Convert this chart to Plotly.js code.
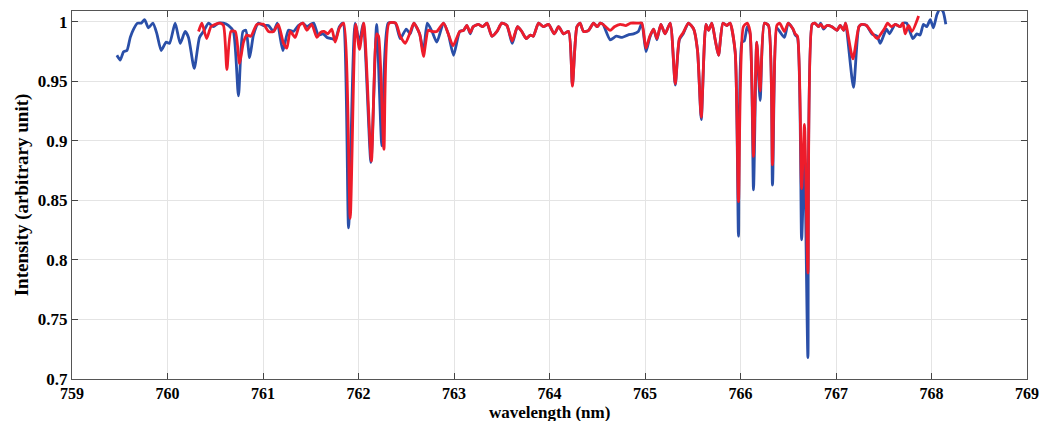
<!DOCTYPE html>
<html>
<head>
<meta charset="utf-8">
<script src="https://cdn.plot.ly/plotly-3.0.1.min.js"></script>
<style>
html,body{margin:0;padding:0;background:#fff;}
#chart{width:1040px;height:421px;}
</style>
</head>
<body>
<div id="chart"></div>
<script>
// Blue series (wavelength nm, intensity)
var blueX = [759.47,759.505,759.54,759.575,759.61,759.645,759.686,759.725,759.76,759.80,759.847,759.889,759.934,759.986,760.021,760.08,760.133,760.185,760.22,760.28,760.335,760.377,760.43,760.48,760.534,760.586,760.64,760.69,760.743,760.79,760.82,760.86,760.90,760.953,761.005,761.057,761.11,761.15,761.208,761.267,761.32,761.37,761.418,761.46,761.50,761.53,761.58,761.63,761.67,761.72,761.756,761.80,761.837,761.896,761.965,762.01,762.05,762.13,762.19,762.245,762.31,762.385,762.437,762.50,762.54,762.58,762.64,762.68,762.72,762.77,762.82,762.89,762.94,762.995,763.06,763.10,763.135,763.17,763.20,763.257,763.30,763.345,763.397,763.45,763.50,763.554,763.61,763.665,763.71,763.756,763.80,763.83,763.885,763.937,763.99,764.05,764.095,764.147,764.20,764.24,764.287,764.32,764.356,764.41,764.46,764.50,764.53,764.56,764.635,764.70,764.76,764.82,764.88,764.93,764.967,765.01,765.05,765.09,765.125,765.166,765.21,765.264,765.317,765.36,765.40,765.455,765.51,765.55,765.589,765.638,765.665,765.70,765.735,765.77,765.816,765.857,765.89,765.944,765.979,766.015,766.04,766.07,766.10,766.136,766.17,766.206,766.25,766.293,766.335,766.38,766.41,766.46,766.50,766.55,766.573,766.597,766.64,766.67,766.706,766.75,766.78,766.817,766.84,766.87,766.905,766.957,767.01,767.044,767.08,767.10,767.183,767.24,767.27,767.32,767.376,767.43,767.463,767.505,767.53,767.56,767.62,767.672,767.70,767.74,767.805,767.847,767.88,767.916,767.95,767.987,768.02,768.056,768.09,768.12,768.15];
var blueY = [0.972,0.968,0.975,0.976,0.987,0.994,0.999,0.999,1.002,0.995,0.999,0.990,0.976,0.983,0.982,0.999,0.982,0.992,0.987,0.961,0.987,0.992,0.999,0.996,0.999,0.999,0.997,0.992,0.938,0.992,0.993,0.970,0.989,0.999,0.997,0.997,0.992,0.999,0.976,0.993,0.992,0.997,0.999,0.996,0.998,0.999,0.989,0.990,0.987,0.986,0.985,0.996,0.999,0.827,0.999,0.983,0.999,0.882,0.998,0.896,0.999,0.999,0.986,0.994,0.990,0.999,0.990,0.975,0.999,0.992,0.983,0.999,0.990,0.972,0.992,0.993,0.997,0.990,0.996,0.998,0.996,0.999,0.988,0.992,0.999,0.997,0.982,0.996,0.992,0.986,0.989,0.988,0.999,0.996,0.998,0.990,0.996,0.990,0.992,0.947,0.996,0.999,0.992,0.993,0.999,0.996,0.999,0.998,0.985,0.988,0.987,0.989,0.990,0.992,0.999,0.975,0.987,0.994,0.985,0.998,0.990,0.999,0.947,0.985,0.990,0.999,0.994,0.976,0.918,0.998,0.993,0.999,0.985,0.972,0.999,0.997,0.999,0.975,0.820,0.983,0.984,0.996,0.990,0.859,0.983,0.934,0.999,0.997,0.863,0.995,0.992,0.987,0.999,0.994,0.989,0.987,0.817,0.887,0.718,0.998,0.999,0.996,0.999,0.994,0.997,0.996,0.993,0.997,0.993,0.999,0.945,0.996,0.998,0.997,0.990,0.988,0.982,0.990,0.994,0.990,0.998,0.996,0.999,0.999,0.986,0.990,0.989,0.998,0.996,1.002,0.995,1.006,1.011,1.009,0.998];

// Red series (wavelength nm, intensity)
var redX = [760.325,760.36,760.41,760.455,760.50,760.55,760.586,760.622,760.664,760.71,760.754,760.796,760.83,760.873,760.936,761.005,761.058,761.11,761.16,761.215,761.25,761.285,761.337,761.38,761.418,761.46,761.51,761.564,761.60,761.64,761.68,761.72,761.756,761.80,761.845,761.913,761.97,762.01,762.055,762.135,762.19,762.21,762.266,762.32,762.39,762.437,762.49,762.54,762.58,762.64,762.68,762.73,762.77,762.82,762.89,762.94,762.99,763.06,763.10,763.135,763.17,763.20,763.257,763.30,763.345,763.397,763.45,763.50,763.554,763.61,763.665,763.71,763.756,763.80,763.83,763.885,763.937,763.99,764.05,764.095,764.147,764.20,764.24,764.287,764.32,764.356,764.41,764.46,764.50,764.53,764.56,764.635,764.68,764.74,764.80,764.85,764.93,764.967,765.01,765.05,765.09,765.125,765.166,765.21,765.264,765.317,765.36,765.40,765.455,765.51,765.55,765.589,765.638,765.665,765.70,765.735,765.77,765.816,765.857,765.89,765.944,765.979,766.03,766.07,766.10,766.136,766.17,766.206,766.25,766.293,766.335,766.38,766.41,766.46,766.50,766.55,766.573,766.597,766.64,766.67,766.706,766.75,766.78,766.817,766.84,766.87,766.905,766.957,767.01,767.044,767.08,767.10,767.177,767.24,767.27,767.32,767.376,767.43,767.47,767.505,767.54,767.58,767.62,767.672,767.70,767.725,767.76,767.795,767.865];
var redY = [0.992,0.999,0.986,0.996,0.998,0.999,0.997,0.960,0.992,0.992,0.965,0.983,0.989,0.988,0.998,0.998,0.992,0.992,0.998,0.982,0.978,0.992,0.987,0.997,0.999,0.993,0.998,0.987,0.991,0.992,0.990,0.994,0.983,0.995,0.999,0.835,0.998,0.977,0.999,0.883,0.990,0.988,0.893,0.999,0.999,0.988,0.982,0.991,0.999,0.990,0.971,0.993,0.992,0.992,0.999,0.990,0.980,0.992,0.993,0.997,0.991,0.996,0.998,0.996,0.999,0.988,0.992,0.999,0.997,0.984,0.996,0.992,0.986,0.989,0.988,0.999,0.996,0.998,0.990,0.996,0.990,0.992,0.946,0.996,0.999,0.992,0.993,0.999,0.996,0.999,0.998,0.993,0.996,0.998,0.997,0.999,0.999,0.999,0.978,0.988,0.994,0.986,0.998,0.990,0.999,0.948,0.986,0.991,0.999,0.994,0.976,0.920,0.998,0.993,0.999,0.985,0.972,0.999,0.997,0.999,0.975,0.849,0.996,0.999,0.992,0.887,0.983,0.942,0.999,0.997,0.880,0.997,0.999,0.992,0.999,0.994,0.990,0.988,0.860,0.914,0.789,0.998,0.999,0.996,0.998,0.995,0.997,0.996,0.993,0.997,0.993,0.999,0.969,0.996,0.998,0.997,0.991,0.986,0.990,0.994,0.999,0.996,0.998,0.996,0.999,0.990,0.997,0.992,1.005];

var xTickVals = [759,760,761,762,763,764,765,766,767,768,769];
var yTickVals = [0.7,0.75,0.8,0.85,0.9,0.95,1];
var yTickText = ['0.7','0.75','0.8','0.85','0.9','0.95','1'];

var serif = '"Liberation Serif", "Times New Roman", serif';

var traces = [
  {x: blueX, y: blueY, type: 'scatter', mode: 'lines', name: 'blue',
   line: {color: '#2a4fa8', width: 2.8, shape: 'spline', smoothing: 0.6}},
  {x: redX, y: redY, type: 'scatter', mode: 'lines', name: 'red',
   line: {color: '#ee1c2b', width: 2.8, shape: 'spline', smoothing: 0.6}}
];

var layout = {
  width: 1040, height: 421,
  margin: {l: 72, r: 13, t: 11, b: 42},
  paper_bgcolor: '#fff', plot_bgcolor: '#fff',
  showlegend: false,
  font: {family: serif, color: '#000'},
  xaxis: {
    range: [759, 769], tickvals: xTickVals,
    ticks: 'inside', ticklen: 6, tickcolor: '#444',
    showline: true, linecolor: '#555', linewidth: 1, mirror: 'ticks',
    showgrid: true, gridcolor: '#e4e4e4', zeroline: false,
    tickfont: {family: serif, size: 16, color: '#000', weight: 'bold'}
  },
  yaxis: {
    range: [0.7, 1.0092], tickvals: yTickVals, ticktext: yTickText,
    ticks: 'inside', ticklen: 6, tickcolor: '#444',
    showline: true, linecolor: '#555', linewidth: 1, mirror: 'ticks',
    showgrid: true, gridcolor: '#e4e4e4', zeroline: false,
    tickfont: {family: serif, size: 17, color: '#000', weight: 'bold'},
    title: {text: '<b>Intensity (arbitrary unit)</b>', font: {family: serif, size: 19, color: '#000'}, standoff: 4}
  },
  annotations: [{
    text: '<b>wavelength (nm)</b>', xref: 'paper', yref: 'paper', x: 0.5, y: 0,
    xanchor: 'center', yanchor: 'middle', yshift: -33, showarrow: false,
    font: {family: serif, size: 17, color: '#000'}, borderpad: 0
  }]
};

Plotly.newPlot('chart', traces, layout, {displayModeBar: false, staticPlot: true});
</script>
</body>
</html>
